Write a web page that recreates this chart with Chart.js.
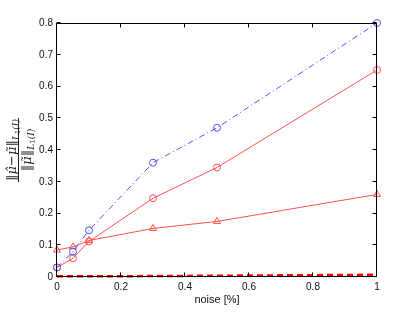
<!DOCTYPE html>
<html>
<head>
<meta charset="utf-8">
<script src="https://cdn.jsdelivr.net/npm/chart.js@4/dist/chart.umd.min.js"></script>
<style>
  html, body { margin: 0; padding: 0; background: #fff; }
  #wrap { width: 415px; height: 312px; }
</style>
</head>
<body>
<div id="wrap"><canvas id="c" width="415" height="312"></canvas></div>
<script>
const noise = [0, 0.05, 0.1, 0.3, 0.5, 1]
const errBlueCircle = [0.03, 0.08, 0.147, 0.36, 0.47, 0.8]
const errRedCircle = [0.03, 0.059, 0.112, 0.248, 0.345, 0.652]
const errRedTriangle = [0.085, 0.095, 0.115, 0.153, 0.175, 0.26]
const errRedDashed = [0.002, 0.002, 0.002, 0.003, 0.004, 0.007]

const xTicks = [0, 0.2, 0.4, 0.6, 0.8, 1]
const yTicks = [0, 0.1, 0.2, 0.3, 0.4, 0.5, 0.6, 0.7, 0.8]

const blue = 'rgb(80,80,255)'
const red = 'rgb(255,80,80)'

const toPoints = ys => noise.map((x, i) => ({x, y: ys[i]}))

// matlab style box with inward ticks
const boxTicks = {
    id: 'boxTicks',
    afterDraw(chart) {
        const ctx = chart.ctx
        const a = chart.chartArea
        const x = chart.scales.x
        const y = chart.scales.y
        const l = Math.round(a.left) - 0.5
        const r = Math.round(a.right) - 0.5
        const t = Math.round(a.top) + 0.5
        const b = Math.round(a.bottom) - 0.5
        ctx.save()
        ctx.setLineDash([])
        ctx.strokeStyle = '#000'
        ctx.lineWidth = 1
        ctx.beginPath()
        ctx.moveTo(l, t)
        ctx.lineTo(r, t)
        ctx.lineTo(r, b)
        ctx.lineTo(l, b)
        ctx.closePath()
        xTicks.forEach(v => {
            const px = Math.round(x.getPixelForValue(v)) - 0.5
            ctx.moveTo(px, b)
            ctx.lineTo(px, b - 4)
            ctx.moveTo(px, t)
            ctx.lineTo(px, t + 4)
        })
        yTicks.forEach(v => {
            const py = Math.round(y.getPixelForValue(v)) - 0.5
            ctx.moveTo(l, py)
            ctx.lineTo(l + 4, py)
            ctx.moveTo(r, py)
            ctx.lineTo(r - 4, py)
        })
        ctx.stroke()
        ctx.restore()
    }
}

// draws a run of [text, font, shift] pieces centred at 0, returns its width
function drawRun(ctx, pieces) {
    let total = 0
    pieces.forEach(p => { ctx.font = p[1]; total += ctx.measureText(p[0]).width })
    let cx = -total / 2
    pieces.forEach(p => {
        ctx.font = p[1]
        ctx.fillText(p[0], cx, p[2])
        cx += ctx.measureText(p[0]).width
    })
    return total
}

const yLabel = {
    id: 'yLabel',
    afterDraw(chart) {
        const {ctx, chartArea: a} = chart
        const cy = Math.round((a.top + a.bottom) / 2)
        const main = 'italic 13px "DejaVu Serif", serif'
        const bars = '13px "DejaVu Serif", serif'
        const sub = 'italic 9px "DejaVu Serif", serif'
        const subN = '7px "DejaVu Serif", serif'
        ctx.save()
        ctx.fillStyle = '#222'
        ctx.textBaseline = 'alphabetic'
        ctx.textAlign = 'left'

        ctx.save()
        ctx.translate(16, cy)
        ctx.rotate(-Math.PI / 2)
        const w = drawRun(ctx, [
            ['\u2016', bars, 0],
            ['\u03bc\u0302', main, 0],
            ['\u2212', bars, 0],
            ['\u03bc\u0303', main, 0],
            ['\u2016', bars, 0],
            ['L', sub, 3], ['1', subN, 4], ['(I)', sub, 3],
        ])
        ctx.restore()

        ctx.save()
        ctx.translate(31, cy)
        ctx.rotate(-Math.PI / 2)
        drawRun(ctx, [
            ['\u2016', bars, 0],
            ['\u03bc\u0303', main, 0],
            ['\u2016', bars, 0],
            ['L', sub, 3], ['1', subN, 4], ['(I)', sub, 3],
        ])
        ctx.restore()

        // fraction bar
        ctx.fillRect(18, Math.round(cy - w / 2 - 1), 1, Math.round(w + 2))
        ctx.restore()
    }
}

const tickFont = {family: '"Liberation Sans", Arial, sans-serif', size: 10}
const noGrid = {display: false, drawTicks: false, tickLength: 0}

new Chart(document.getElementById('c'), {
    type: 'scatter',
    data: {
        datasets: [
            {
                data: toPoints(errBlueCircle),
                showLine: true,
                borderColor: blue,
                borderWidth: 1,
                borderDash: [6, 3, 1, 3],
                pointStyle: 'circle',
                pointRadius: 3.5,
                pointBorderColor: blue,
                pointBackgroundColor: 'rgba(0,0,0,0)',
                pointBorderWidth: 1,
                clip: false,
            },
            {
                data: toPoints(errRedCircle),
                showLine: true,
                borderColor: red,
                borderWidth: 1,
                pointStyle: 'circle',
                pointRadius: 3.5,
                pointBorderColor: red,
                pointBackgroundColor: 'rgba(0,0,0,0)',
                pointBorderWidth: 1,
                clip: false,
            },
            {
                data: toPoints(errRedTriangle),
                showLine: true,
                borderColor: red,
                borderWidth: 1,
                pointStyle: 'triangle',
                pointRadius: 4,
                pointBorderColor: red,
                pointBackgroundColor: 'rgba(0,0,0,0)',
                pointBorderWidth: 1,
                clip: false,
            },
            {
                data: toPoints(errRedDashed),
                showLine: true,
                borderColor: 'rgb(255,0,0)',
                borderWidth: 2.5,
                borderDash: [6, 4],
                pointRadius: 0,
                clip: false,
            },
        ],
    },
    options: {
        responsive: false,
        animation: false,
        layout: {padding: {left: 0, top: 23, right: 38, bottom: 0}},
        plugins: {
            legend: {display: false},
            tooltip: {enabled: false},
        },
        scales: {
            x: {
                type: 'linear',
                min: 0,
                max: 1,
                afterBuildTicks: s => { s.ticks = xTicks.map(v => ({value: v})) },
                afterFit: s => { s.height = 35 },
                grid: noGrid,
                border: {display: false},
                ticks: {
                    font: tickFont,
                    color: '#111',
                    padding: 4,
                    maxRotation: 0,
                    callback: v => String(v),
                },
                title: {
                    display: true,
                    text: 'noise [%]',
                    font: {family: '"Liberation Sans", Arial, sans-serif', size: 11},
                    color: '#111',
                    padding: {top: 0, bottom: 5},
                },
            },
            y: {
                min: 0,
                max: 0.8,
                afterBuildTicks: s => { s.ticks = yTicks.map(v => ({value: v})) },
                afterFit: s => { s.width = 57 },
                grid: noGrid,
                border: {display: false},
                ticks: {
                    font: tickFont,
                    color: '#111',
                    padding: 4,
                    callback: v => String(Math.round(v * 10) / 10),
                },
            },
        },
    },
    plugins: [boxTicks, yLabel],
})
</script>
</body>
</html>
